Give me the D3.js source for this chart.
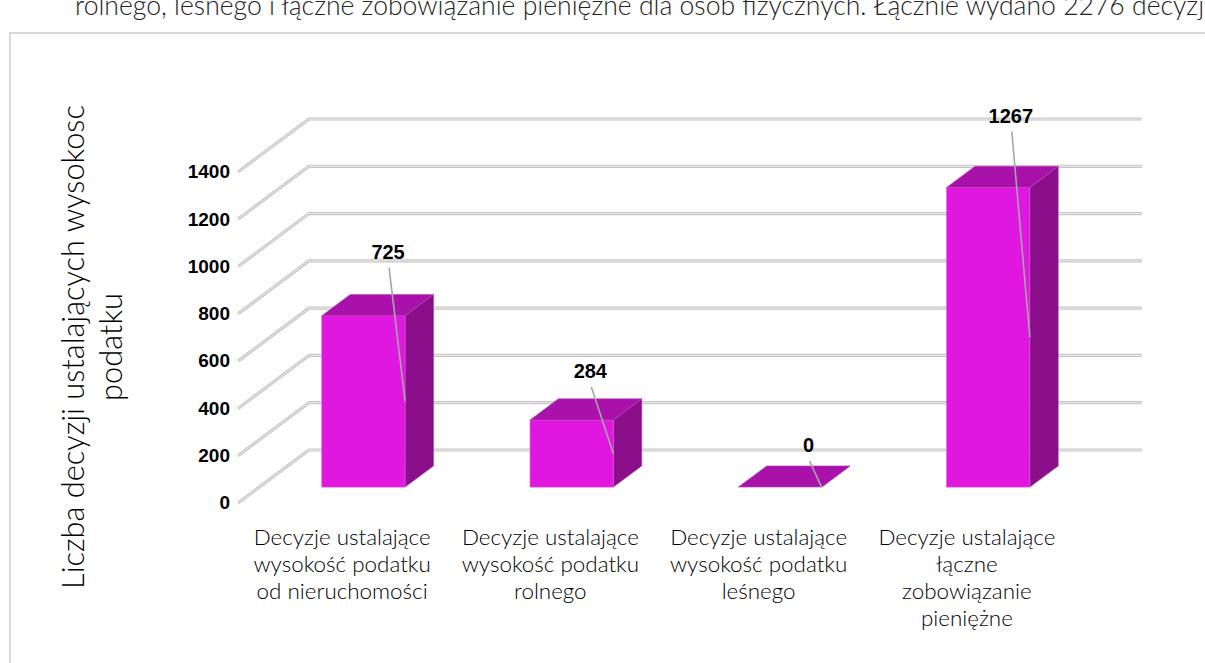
<!DOCTYPE html>
<html>
<head>
<meta charset="utf-8">
<script src="https://cdn.jsdelivr.net/npm/d3@7"></script>
<style>
  html, body { margin: 0; padding: 0; background: #fff; overflow: hidden; }
  svg { display: block; }
</style>
</head>
<body>
<svg width="1205" height="663"></svg>
<script>

// data
const categories = [
	["Decyzje ustalające", "wysokość podatku", "od nieruchomości"],
	["Decyzje ustalające", "wysokość podatku", "rolnego"],
	["Decyzje ustalające", "wysokość podatku", "leśnego"],
	["Decyzje ustalające", "łączne", "zobowiązanie", "pieniężne"]
];
const values = [725, 284, 0, 1267];
const yTicks = [0, 200, 400, 600, 800, 1000, 1200, 1400];
const yTitle = ["Liczba decyzji ustalających wysokosc", "podatku"];
const topLine = "rolnego, leśnego i łączne zobowiązanie pieniężne dla osób fizycznych. Łącznie wydano 2276 decyzji.";

// label nudges (px) from the front-top-right corner of each bar, as placed in the original
const labelNudge = [[-17, -57], [-23, -42], [-13, -35], [-19, -65]];

const svg = d3.select('svg');
const FONT = 'Lato, "Open Sans", sans-serif';
const LIGHT = 300;

//pick a font size so that `probe` is `target` px wide
function fitSize(probe, target) {
	const t = svg.append('text').style('font-family', FONT).style('font-weight', LIGHT)
		.style('font-size', '20px').text(probe);
	const len = t.node().getComputedTextLength();
	t.remove();
	return 20 * target / len;
}

// paragraph line above the chart, cut by the top of the window as in the original
const topSize = fitSize(topLine.slice(0, topLine.length - 2), 1130);
svg.append('text')
	.attr('x', 75)
	.attr('y', 15)
	.style('font-family', FONT)
	.style('font-weight', LIGHT)
	.style('font-size', topSize + 'px')
	.style('fill', '#222')
	.text(topLine);

// chart frame (right side is outside the window)
svg.append('path')
	.attr('d', 'M10,663 L10,33 L1210,33')
	.attr('fill', 'none')
	.attr('stroke', '#d9d9d9')
	.attr('stroke-width', 2);

//Front edge of the floor and the wall depth
const x0 = 238, x1 = 1071;
const depth = {dx: 71, dy: -53};

const y = d3.scaleLinear().domain([0, 1400]).range([503, 172]);
const x = d3.scaleBand()
	.domain(d3.range(categories.length))
	.range([x0, x1])
	.paddingInner(0.6)
	.paddingOuter(0.3);

//Gridlines: diagonal side wall + back wall
const grid = svg.append('g').attr('class', 'grid');
yTicks.forEach(function(t) {
	const p = 'M' + x0 + ',' + y(t) + ' L' + (x0 + depth.dx) + ',' + (y(t) + depth.dy) + ' L' + (x1 + depth.dx) + ',' + (y(t) + depth.dy);
	grid.append('path').attr('d', p).attr('fill', 'none')
		.attr('stroke', '#c6c6c6').attr('stroke-width', 3.2).attr('stroke-linejoin', 'round');
	grid.append('path').attr('d', p).attr('fill', 'none')
		.attr('stroke', '#ececec').attr('stroke-width', 1).attr('stroke-linejoin', 'round');
});

//Y tick labels
svg.append('g').selectAll('text')
	.data(yTicks)
	.join('text')
	.attr('x', 230)
	.attr('y', d => y(d))
	.attr('dy', '0.33em')
	.attr('text-anchor', 'end')
	.style('font-family', '"Liberation Sans", Arial, sans-serif')
	.style('font-weight', 'bold')
	.style('font-size', '19px')
	.style('fill', '#000')
	.text(d => d);

//Bars: front face sits 30% into the depth, 40% deep
const f0 = 0.3, fd = 0.4;
const bdx = depth.dx * fd, bdy = depth.dy * fd;
const bars = svg.append('g').attr('class', 'bars');
const w = x.bandwidth();

values.forEach(function(v, i) {
	const lx = x(i) + depth.dx * f0;
	const rx = lx + w;
	const by = y(0) + depth.dy * f0;
	const ty = y(v) + depth.dy * f0;
	const g = bars.append('g');

	//right side face
	g.append('path')
		.attr('d', 'M' + rx + ',' + by + ' L' + (rx + bdx) + ',' + (by + bdy) + ' L' + (rx + bdx) + ',' + (ty + bdy) + ' L' + rx + ',' + ty + 'Z')
		.attr('fill', '#8b0e8b')
		.attr('stroke', '#9a3a9a').attr('stroke-width', 0.6);
	//front face
	g.append('rect')
		.attr('x', lx).attr('y', ty)
		.attr('width', w).attr('height', by - ty)
		.attr('fill', '#df17df')
		.attr('stroke', '#e25ae2').attr('stroke-width', 0.6);
	//top face
	g.append('path')
		.attr('d', 'M' + lx + ',' + ty + ' L' + rx + ',' + ty + ' L' + (rx + bdx) + ',' + (ty + bdy) + ' L' + (lx + bdx) + ',' + (ty + bdy) + 'Z')
		.attr('fill', '#aa10aa')
		.attr('stroke', '#b84ab8').attr('stroke-width', 0.6);

	//value label + leader line
	const labX = rx + labelNudge[i][0];
	const labY = ty + labelNudge[i][1];
	g.append('line')
		.attr('x1', labX + 1).attr('y1', labY + 9)
		.attr('x2', rx).attr('y2', (ty + by) / 2)
		.attr('stroke', '#a6a6a6').attr('stroke-width', 1.6);
	g.append('text')
		.attr('x', labX).attr('y', labY)
		.attr('text-anchor', 'middle')
		.style('font-family', '"Liberation Sans", Arial, sans-serif')
		.style('font-weight', 'bold')
		.style('font-size', '20px')
		.style('fill', '#000')
		.text(v);
});

//Category labels
const catSize = Math.min(22.4, fitSize('Decyzje ustalające', 196));
const cat = svg.append('g').selectAll('text')
	.data(categories)
	.join('text')
	.attr('x', (d, i) => x(i) + w / 2)
	.attr('y', 545)
	.attr('text-anchor', 'middle')
	.style('font-family', FONT)
	.style('font-weight', LIGHT)
	.style('font-size', catSize + 'px')
	.style('fill', '#000');
cat.selectAll('tspan')
	.data(d => d)
	.join('tspan')
	.attr('x', function() { return d3.select(this.parentNode).attr('x'); })
	.attr('dy', (d, j) => j === 0 ? 0 : 27)
	.text(d => d);

//Y axis title
const ytSize = fitSize(yTitle[0], 484);
const yt = svg.append('text')
	.attr('transform', 'translate(84,347) rotate(-90)')
	.attr('text-anchor', 'middle')
	.style('font-family', FONT)
	.style('font-weight', LIGHT)
	.style('font-size', ytSize + 'px')
	.style('fill', '#000');
yt.selectAll('tspan')
	.data(yTitle)
	.join('tspan')
	.attr('x', 0)
	.attr('dy', (d, j) => j === 0 ? 0 : 38)
	.text(d => d);

</script>
</body>
</html>
